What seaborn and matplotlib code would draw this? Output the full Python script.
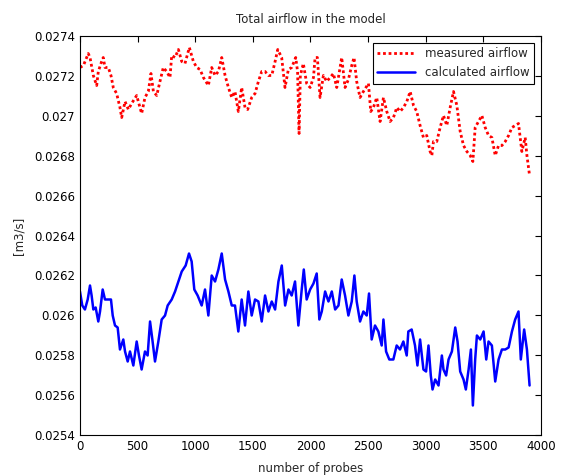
import numpy as np
import pandas as pd
import seaborn as sns
import matplotlib
matplotlib.use("Agg")
import matplotlib.pyplot as plt
from matplotlib.ticker import FormatStrFormatter, MultipleLocator

#################### Data ####################

measured_probes = [
    0, 30, 72, 87, 116, 145, 159, 188, 202, 217, 246, 269, 289, 318, 347, 362,
    391, 420, 448, 492, 521, 535, 564, 593, 616, 637, 666, 694, 723, 752, 781,
    796, 825, 854, 883, 911, 949, 984, 1013, 1042, 1071, 1114, 1143, 1172,
    1201, 1230, 1259, 1288, 1317, 1345, 1374, 1403, 1432, 1455, 1490, 1519,
    1548, 1577, 1606, 1635, 1664, 1693, 1716, 1750, 1779, 1808, 1837, 1872,
    1888, 1901, 1912, 1938, 1967, 1997, 2026, 2040, 2060, 2083, 2112, 2141,
    2170, 2199, 2228, 2257, 2271, 2300, 2329, 2358, 2378, 2401, 2430, 2459,
    2503, 2523, 2546, 2575, 2604, 2633, 2662, 2691, 2720, 2749, 2778, 2807,
    2836, 2865, 2894, 2922, 2951, 2980, 3009, 3038, 3053, 3067, 3096, 3125,
    3154, 3183, 3212, 3241, 3270, 3299, 3328, 3357, 3386, 3409, 3429, 3458,
    3487, 3516, 3545, 3574, 3603, 3632, 3661, 3690, 3719, 3748, 3776, 3805,
    3834, 3863, 3878, 3901,
]
measured_airflow = [
    0.02724, 0.02725, 0.02731, 0.02729, 0.02720, 0.02715, 0.02722, 0.02727,
    0.02729, 0.02724, 0.02724, 0.02720, 0.02714, 0.02711, 0.02704, 0.02699,
    0.02707, 0.02703, 0.02706, 0.02710, 0.02704, 0.02701, 0.02709, 0.02712,
    0.02721, 0.02712, 0.02710, 0.02717, 0.02724, 0.02722, 0.02719, 0.02730,
    0.02729, 0.02733, 0.02727, 0.02726, 0.02734, 0.02727, 0.02724, 0.02723,
    0.02719, 0.02715, 0.02724, 0.02720, 0.02722, 0.02729, 0.02720, 0.02714,
    0.02709, 0.02712, 0.02702, 0.02714, 0.02704, 0.02703, 0.02709, 0.02711,
    0.02717, 0.02722, 0.02722, 0.02720, 0.02720, 0.02727, 0.02733, 0.02729,
    0.02714, 0.02723, 0.02724, 0.02729, 0.02722, 0.02691, 0.02720, 0.02726,
    0.02716, 0.02714, 0.02719, 0.02729, 0.02729, 0.02709, 0.02720, 0.02717,
    0.02719, 0.02721, 0.02714, 0.02724, 0.02729, 0.02714, 0.02718, 0.02725,
    0.02729, 0.02717, 0.02709, 0.02712, 0.02716, 0.02702, 0.02704, 0.02709,
    0.02697, 0.02709, 0.02702, 0.02697, 0.02699, 0.02704, 0.02702, 0.02704,
    0.02707, 0.02712, 0.02705, 0.02702, 0.02695, 0.02689, 0.02690, 0.02682,
    0.02680, 0.02687, 0.02687, 0.02694, 0.02700, 0.02695, 0.02704, 0.02712,
    0.02705, 0.02692, 0.02685, 0.02682, 0.02680, 0.02677, 0.02694, 0.02697,
    0.02700, 0.02694, 0.02690, 0.02689, 0.02680, 0.02685, 0.02685, 0.02687,
    0.02690, 0.02694, 0.02695, 0.02696, 0.02682, 0.02689, 0.02680, 0.02670,
]

calculated_probes = [
    0, 20, 43, 67, 87, 101, 116, 136, 159, 174, 197, 217, 246, 269, 284, 304,
    327, 347, 376, 391, 414, 434, 463, 492, 512, 535, 564, 587, 608, 628, 651,
    680, 709, 738, 761, 796, 825, 854, 883, 917, 946, 969, 992, 1021, 1056,
    1085, 1114, 1143, 1172, 1201, 1230, 1259, 1288, 1317, 1345, 1374, 1403,
    1432, 1461, 1490, 1519, 1548, 1577, 1606, 1635, 1664, 1693, 1722, 1751,
    1780, 1809, 1837, 1866, 1895, 1924, 1942, 1967, 1997, 2026, 2054, 2077,
    2098, 2127, 2156, 2185, 2214, 2243, 2271, 2300, 2329, 2358, 2381, 2401,
    2430, 2459, 2488, 2508, 2531, 2560, 2589, 2618, 2633, 2656, 2684, 2719,
    2748, 2777, 2806, 2835, 2849, 2878, 2907, 2928, 2951, 2980, 3003, 3024,
    3044, 3059, 3082, 3111, 3140, 3154, 3177, 3198, 3227, 3256, 3276, 3299,
    3328, 3348, 3372, 3392, 3409, 3429, 3444, 3473, 3502, 3525, 3545, 3574,
    3603, 3632, 3661, 3690, 3719, 3748, 3776, 3805, 3825, 3854, 3878, 3901,
]
calculated_airflow = [
    0.02612, 0.02605, 0.02603, 0.02608, 0.02615, 0.02610, 0.02603, 0.02604,
    0.02597, 0.02602, 0.02613, 0.02608, 0.02608, 0.02608, 0.02600, 0.02595,
    0.02594, 0.02583, 0.02588, 0.02582, 0.02577, 0.02582, 0.02575, 0.02587,
    0.02580, 0.02573, 0.02582, 0.02580, 0.02597, 0.02588, 0.02577, 0.02587,
    0.02598, 0.02600, 0.02605, 0.02608, 0.02612, 0.02617, 0.02622, 0.02625,
    0.02631, 0.02627, 0.02613, 0.02610, 0.02605, 0.02613, 0.02600, 0.02620,
    0.02617, 0.02623, 0.02631, 0.02618, 0.02612, 0.02605, 0.02605, 0.02592,
    0.02608, 0.02595, 0.02612, 0.02600, 0.02608, 0.02607, 0.02597, 0.02610,
    0.02602, 0.02607, 0.02603, 0.02617, 0.02625, 0.02605, 0.02613, 0.02610,
    0.02617, 0.02595, 0.02613, 0.02623, 0.02608, 0.02613, 0.02616, 0.02621,
    0.02598, 0.02602, 0.02612, 0.02607, 0.02612, 0.02603, 0.02605, 0.02618,
    0.02610, 0.02600, 0.02607, 0.02620, 0.02607, 0.02597, 0.02602, 0.02600,
    0.02611, 0.02588, 0.02595, 0.02592, 0.02585, 0.02598, 0.02582, 0.02578,
    0.02578, 0.02585, 0.02583, 0.02587, 0.02580, 0.02592, 0.02593, 0.02585,
    0.02575, 0.02588, 0.02573, 0.02572, 0.02585, 0.02570, 0.02563, 0.02568,
    0.02565, 0.02580, 0.02573, 0.02570, 0.02578, 0.02582, 0.02594, 0.02587,
    0.02572, 0.02568, 0.02563, 0.02573, 0.02583, 0.02555, 0.02578, 0.02590,
    0.02588, 0.02592, 0.02578, 0.02587, 0.02585, 0.02567, 0.02578, 0.02583,
    0.02583, 0.02584, 0.02592, 0.02598, 0.02602, 0.02578, 0.02593, 0.02583,
    0.02565,
]

df_measured = pd.DataFrame({"probe": measured_probes, "airflow": measured_airflow})
df_calculated = pd.DataFrame({"probe": calculated_probes, "airflow": calculated_airflow})

#################### Plot ####################

sns.set_style("white")
plt.rcParams["font.family"] = ["DejaVu Sans"]
plt.rcParams["font.size"] = 8

fig = plt.figure(figsize=(5.62, 4.76), dpi=100)
ax = fig.add_axes([0.1423, 0.0851, 0.8203, 0.8403])

sns.lineplot(data=df_measured, x="probe", y="airflow", ax=ax, estimator=None,
             color="#ff0000", linewidth=2.0, label="measured airflow",
             dashes=False)
sns.lineplot(data=df_calculated, x="probe", y="airflow", ax=ax, estimator=None,
             color="#0000ff", linestyle="-", linewidth=1.8, label="calculated airflow")

# MATLAB-style square dots for the measured series
red_line = ax.get_lines()[0]
red_line.set_linestyle((0, (1, 1)))
red_line.set_dash_capstyle("butt")

ax.set_xlim(0, 4000)
ax.set_ylim(0.0254, 0.0274)
ax.xaxis.set_major_locator(MultipleLocator(500))
ax.yaxis.set_major_locator(MultipleLocator(0.0002))
ax.yaxis.set_major_formatter(FormatStrFormatter("%g"))
ax.tick_params(direction="in", length=4, width=0.8, top=True, right=True,
               labelsize=8.5, colors="black")

for s in ax.spines.values():
    s.set_color("black")
    s.set_linewidth(0.8)

ax.set_title("Total airflow in the model", fontsize=8.5, pad=9)
ax.set_xlabel("number of probes", fontsize=8.5, labelpad=6)
ax.set_ylabel("[m3/s]", fontsize=8.5, labelpad=6)

leg = ax.legend(loc="upper right", fontsize=8.5, frameon=True, fancybox=False,
                framealpha=1, edgecolor="black", handlelength=3.2,
                borderaxespad=0.6)
leg.get_frame().set_linewidth(0.8)
leg.get_lines()[0].set_linestyle((0, (1, 1)))
leg.get_lines()[0].set_dash_capstyle("butt")

fig.savefig("out.png", dpi=100)
